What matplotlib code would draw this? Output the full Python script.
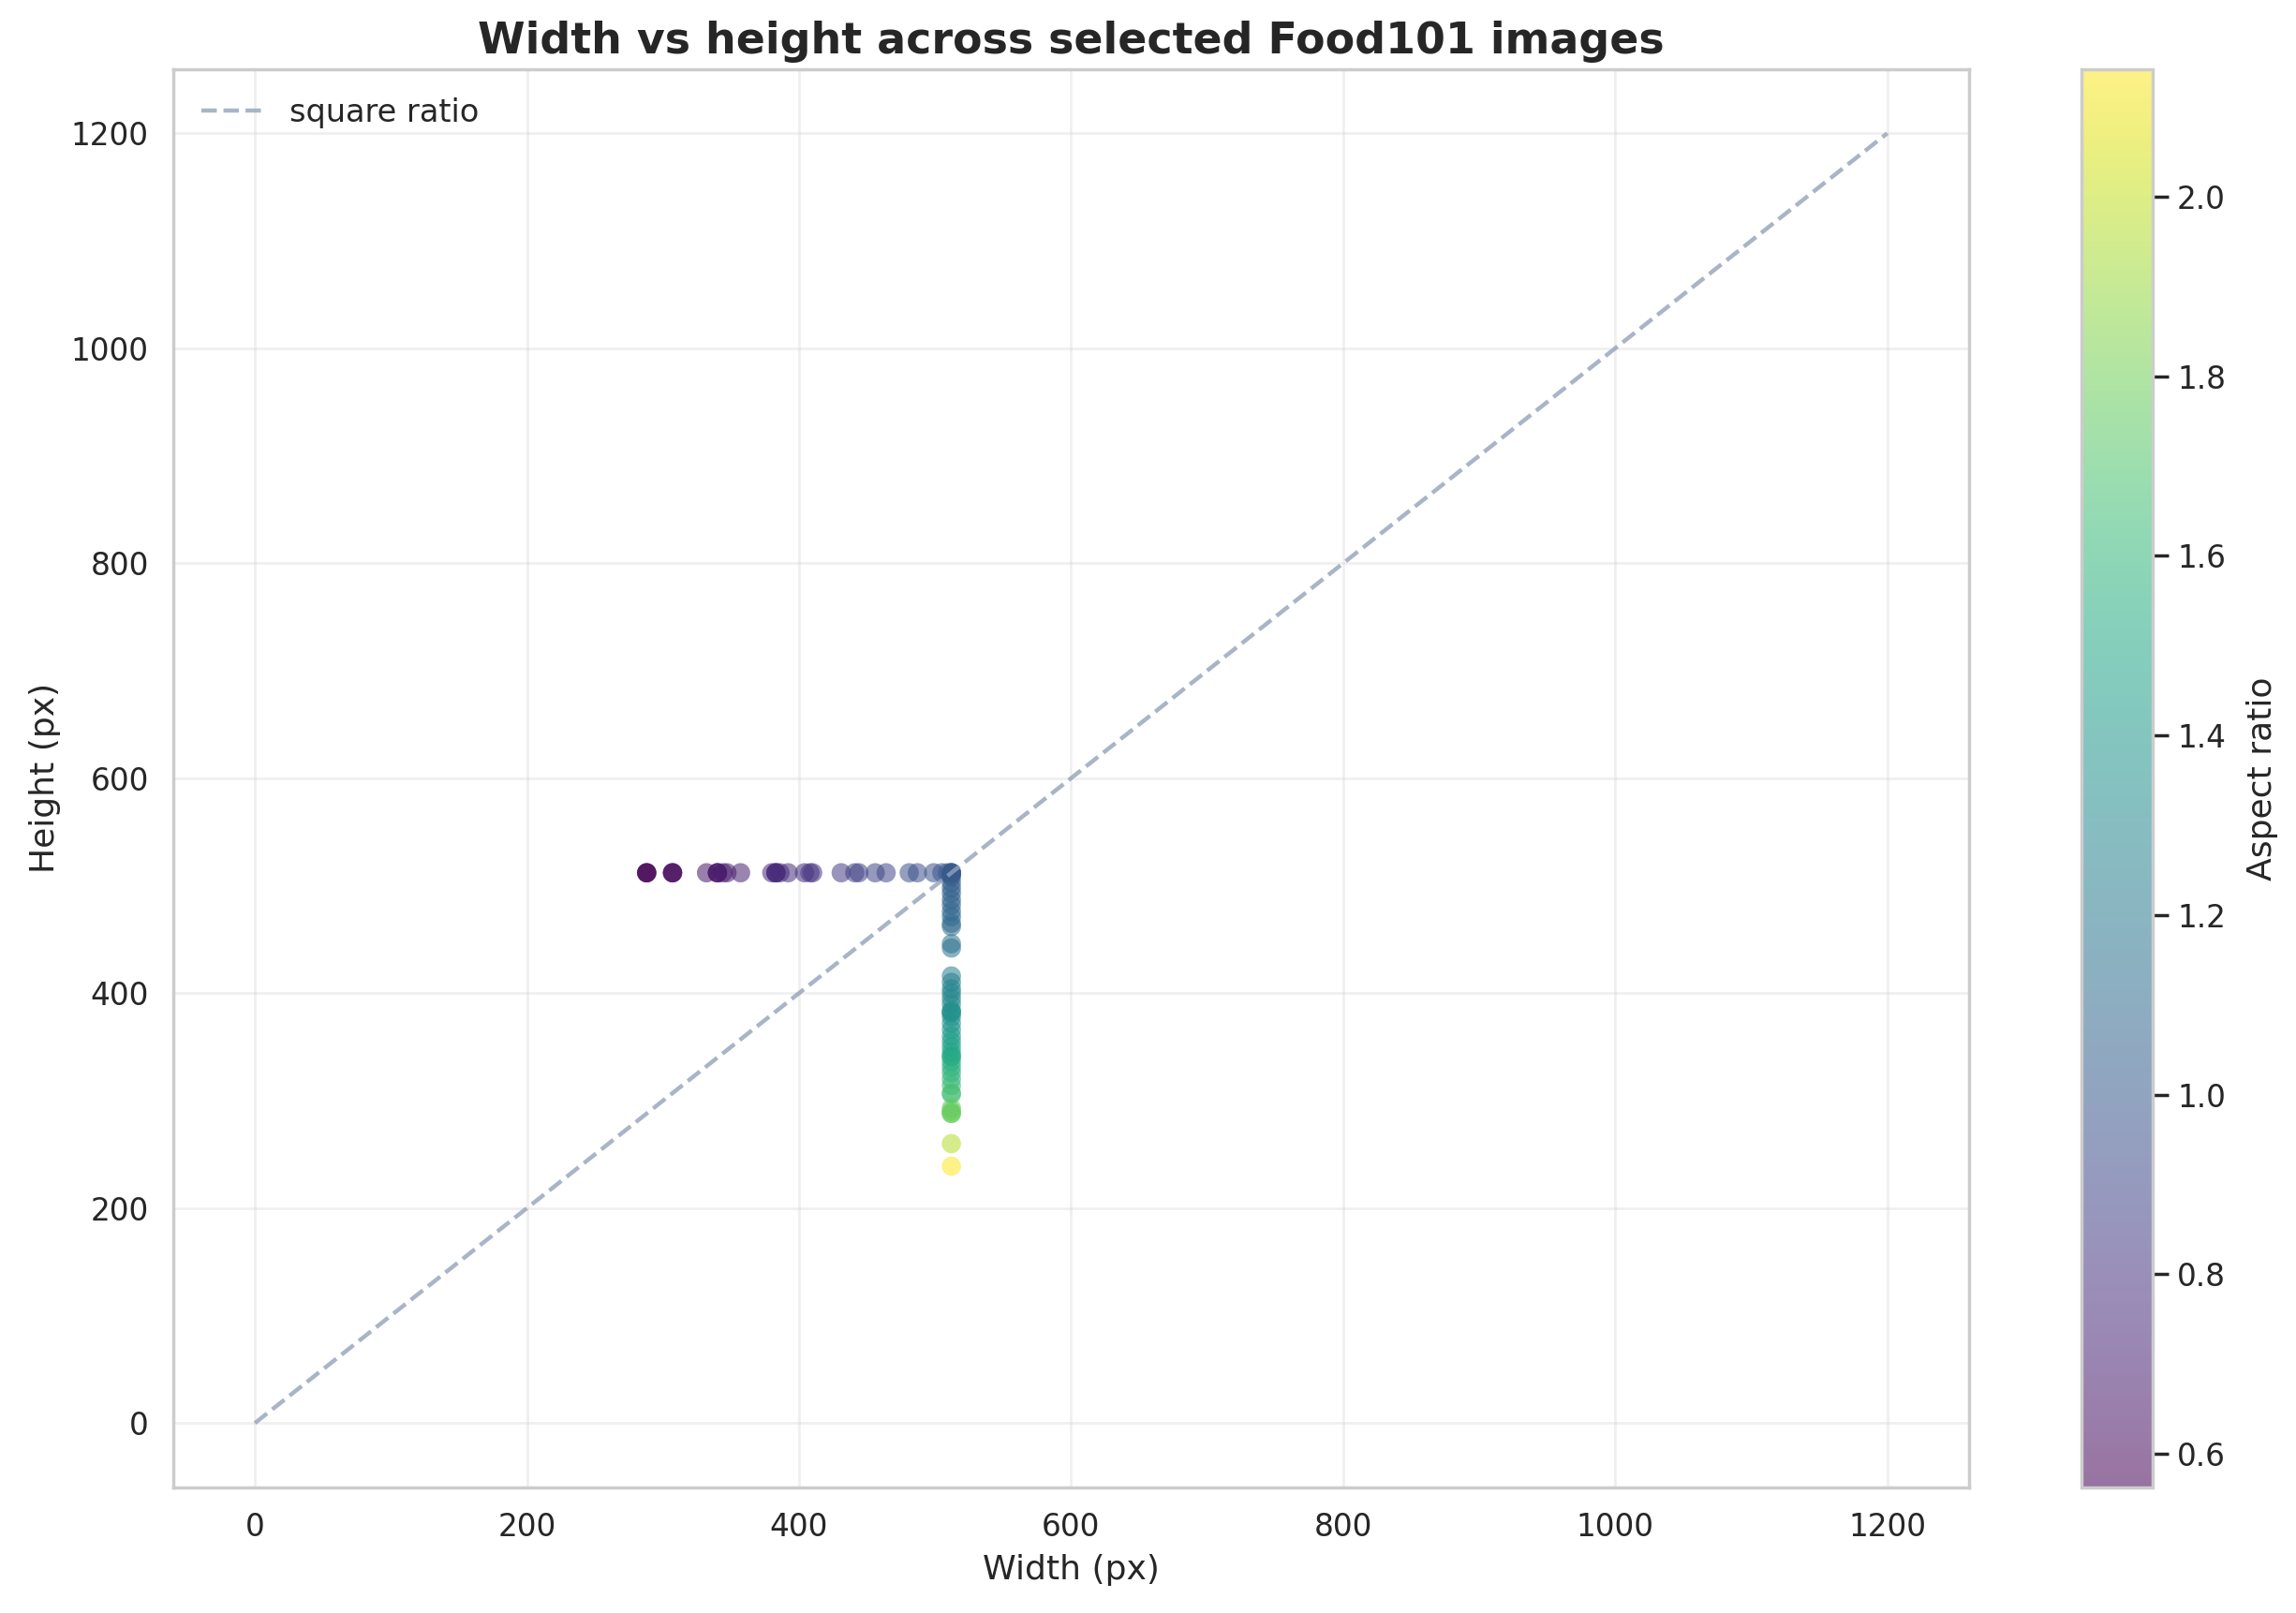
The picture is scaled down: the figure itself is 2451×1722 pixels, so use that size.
"""
Scatter of image width vs height for a sample of Food101 images.
"""

import numpy as np
import matplotlib
matplotlib.use("Agg")
import matplotlib.pyplot as plt
import seaborn as sns

# images that are 512 px tall (width varies)
row_widths = [288, 288, 288, 307, 307, 307, 332, 340, 340, 340, 344, 347,
              357, 380, 383, 383, 383, 386, 392, 404, 408, 410, 431, 441,
              444, 456, 464, 481, 487, 499, 505, 509]
# images that are 512 px wide (height varies)
col_heights = [512, 512, 512, 512, 510, 508, 503, 498, 493, 487, 482,
               476, 471, 465, 462, 446, 442, 416, 410, 404, 400, 395,
               390, 384, 382, 382, 378, 372, 366, 360, 355, 350, 345,
               341, 341, 336, 331, 326, 320, 314, 307, 306, 293, 290,
               288, 288, 260, 239]

widths = np.array(row_widths + [512] * len(col_heights), dtype=float)
heights = np.array([512] * len(row_widths) + col_heights, dtype=float)
aspect = widths / heights

sns.set_theme(style="whitegrid")
plt.rcParams["font.family"] = ["DejaVu Sans"]

fig = plt.figure(figsize=(12.255, 8.61), dpi=200)
ax = fig.add_axes([0.0755, 0.0778, 0.782, 0.8795])
cax = fig.add_axes([0.9064, 0.0778, 0.031, 0.8795])

# diagonal reference
ax.plot([0, 1200], [0, 1200], linestyle="--", color="#94a3b8",
        linewidth=1.6, alpha=0.8, label="square ratio")

sc = ax.scatter(widths, heights, c=aspect, cmap="viridis", s=55,
                alpha=0.55, edgecolors="none")

ax.grid(True, alpha=0.3)
ax.set_title("Width vs height across selected Food101 images",
             fontsize=16.5, fontweight="bold")
ax.set_xlabel("Width (px)", fontsize=13)
ax.set_ylabel("Height (px)", fontsize=13)
ax.tick_params(labelsize=11.8)
ax.legend(loc="upper left", frameon=False, fontsize=12.1,
          borderaxespad=0.5)

cb = fig.colorbar(sc, cax=cax)
cb.ax.grid(False)
cb.set_label("Aspect ratio", fontsize=13, labelpad=8)
cb.ax.tick_params(labelsize=11.8)

fig.savefig("out.png", dpi=200)
plt.close(fig)
